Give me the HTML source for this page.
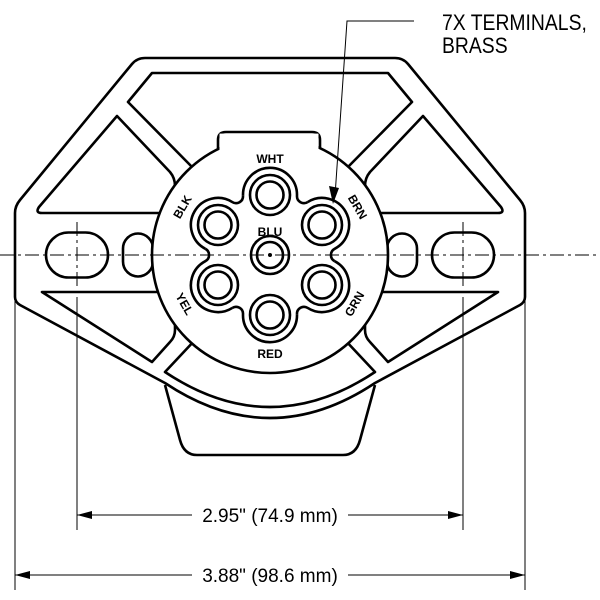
<!DOCTYPE html>
<html><head><meta charset="utf-8"><style>
html,body{margin:0;padding:0;background:#fff}
svg{display:block}
.t{font-family:"Liberation Sans",sans-serif}
</style></head><body>
<svg width="600" height="600" viewBox="0 0 600 600" xmlns="http://www.w3.org/2000/svg">
<g fill="none" stroke="#000" stroke-width="2.6" stroke-linejoin="round">
<path d="M165,385 L180,440 Q184,455 197,455 L343,455 Q356,455 360,440 L375,385" fill="#fff"/>
<path d="M145,58 L395,58 Q403,58 408,64 L520,200 Q525,206 525,213 L525,297 Q525,302 520,305 L375,383 Q270,453 165,383 L20,305 Q15,302 15,297 L15,213 Q15,206 20,200 L132,64 Q137,58 145,58 Z" fill="#fff"/>
<path d="M152,73 L388,73 L412,102 L345,170 L195,170 L128,102 Z"/>
<path d="M165,372 L195,340 L345,340 L375,372 Q270,442 165,372 Z"/>
<g>
<path d="M117,116 L39,207 Q35,213 42,213 L168,213 Q175,213 175,205 L175,186 Q175,178 170,172 Z"/>
<path d="M42,292 L168,292 Q175,292 175,300 L175,330 Q175,337 170,342 L152,362 Z"/>
<rect x="46" y="232.5" width="62" height="45" rx="22.5"/>
<rect x="123" y="233.5" width="30" height="43" rx="15"/>
</g>
<g transform="translate(540,0) scale(-1,1)">
<path d="M117,116 L39,207 Q35,213 42,213 L168,213 Q175,213 175,205 L175,186 Q175,178 170,172 Z"/>
<path d="M42,292 L168,292 Q175,292 175,300 L175,330 Q175,337 170,342 L152,362 Z"/>
<rect x="46" y="232.5" width="62" height="45" rx="22.5"/>
<rect x="123" y="233.5" width="30" height="43" rx="15"/>
</g>
<path d="M218,160 L218,140 Q218,132 226,132 L312,132 Q320,132 320,140 L320,160" fill="#fff"/>
<circle cx="270" cy="255" r="118" fill="#fff"/>
<rect x="219.5" y="133.6" width="99" height="24" fill="#fff" stroke="none"/>
<!-- flower outline -->
<g>
<path id="seg" d="M243.02,195.88 A27,27 0 1,1 296.98,195.88 A7,7 0 0,0 307.71,202.08"/>
<use href="#seg" transform="rotate(60 270 255)"/>
<use href="#seg" transform="rotate(120 270 255)"/>
<use href="#seg" transform="rotate(180 270 255)"/>
<use href="#seg" transform="rotate(240 270 255)"/>
<use href="#seg" transform="rotate(300 270 255)"/>
</g>
<g>
<circle cx="270" cy="195" r="20"/><circle cx="270" cy="195" r="13.5"/>
<circle cx="322" cy="225" r="20"/><circle cx="322" cy="225" r="13.5"/>
<circle cx="322" cy="285" r="20"/><circle cx="322" cy="285" r="13.5"/>
<circle cx="270" cy="315" r="20"/><circle cx="270" cy="315" r="13.5"/>
<circle cx="218" cy="285" r="20"/><circle cx="218" cy="285" r="13.5"/>
<circle cx="218" cy="225" r="20"/><circle cx="218" cy="225" r="13.5"/>
<circle cx="270" cy="255" r="19"/><circle cx="270" cy="255" r="13"/>
</g>
<circle cx="270" cy="255" r="2" fill="#000" stroke="none"/>
</g>
<g stroke="#000" stroke-width="1" fill="none">
<line x1="0" y1="255" x2="600" y2="255" stroke-dasharray="14,4,3,4"/>
<line x1="77" y1="222" x2="77" y2="290" stroke-dasharray="14,4,3,4"/>
<line x1="463" y1="222" x2="463" y2="290" stroke-dasharray="14,4,3,4"/>
<line x1="77" y1="297" x2="77" y2="530"/>
<line x1="463" y1="297" x2="463" y2="530"/>
<line x1="15" y1="300" x2="15" y2="590"/>
<line x1="525" y1="300" x2="525" y2="590"/>
<line x1="77" y1="515" x2="192" y2="515"/>
<line x1="348" y1="515" x2="463" y2="515"/>
<line x1="15" y1="575" x2="192" y2="575"/>
<line x1="348" y1="575" x2="525" y2="575"/>
<polyline points="414,21 347,21 335,196"/>
</g>
<g fill="#000">
<polygon points="77,515 92,511 92,519"/><polygon points="463,515 448,511 448,519"/>
<polygon points="15,575 30,571 30,579"/><polygon points="525,575 510,571 510,579"/>
<polygon points="333,204 329,186 339,188"/>
</g>
<g class="t" font-size="19" fill="#000" text-anchor="middle">
<text x="270" y="522">2.95" (74.9 mm)</text>
<text x="270" y="582">3.88" (98.6 mm)</text>
</g>
<g class="t" font-size="22" fill="#000" transform="translate(442,0) scale(0.88,1)">
<text x="0" y="30">7X TERMINALS,</text>
<text x="0" y="53">BRASS</text>
</g>
<g class="t" font-size="12" font-weight="bold" fill="#000" text-anchor="middle">
<text x="270" y="163">WHT</text>
<text x="270" y="236">BLU</text>
<text x="270" y="358">RED</text>
<text transform="translate(186,209) rotate(-60)">BLK</text>
<text transform="translate(354,209) rotate(60)">BRN</text>
<text transform="translate(181,306) rotate(60)">YEL</text>
<text transform="translate(358,306) rotate(-60)">GRN</text>
</g>
</svg>
</body></html>
